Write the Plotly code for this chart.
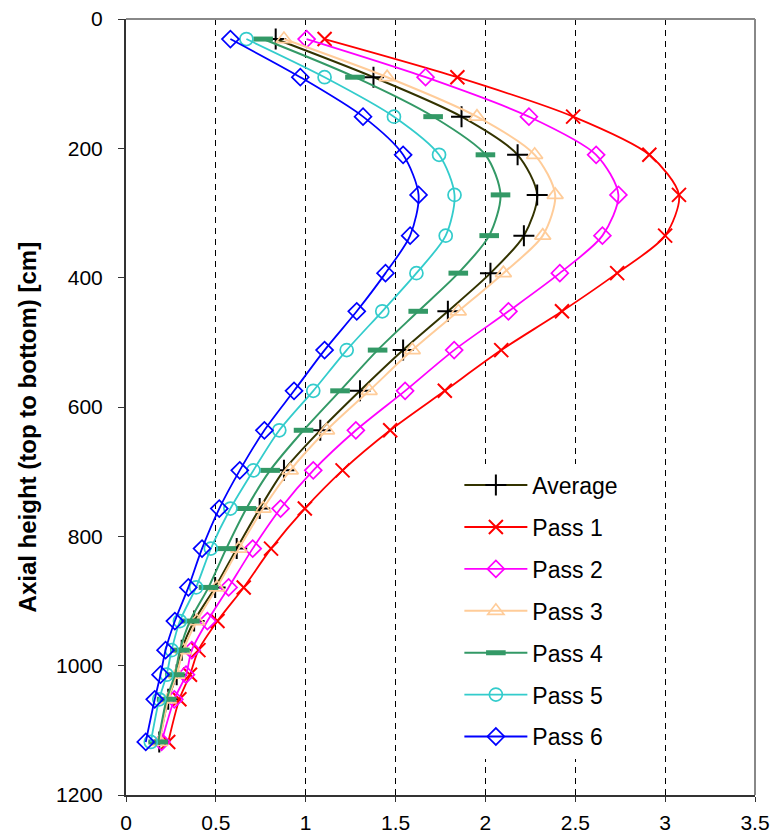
import plotly.graph_objects as go

# Axial positions (cm, measured from the top)
height_cm = [31, 90, 151, 210, 272, 335, 393, 452, 512, 575,
             636, 698, 757, 819, 879, 931, 976, 1014, 1052, 1118]

average = [0.833, 1.377, 1.867, 2.179, 2.288, 2.214, 2.028, 1.791, 1.542, 1.302,
           1.081, 0.879, 0.744, 0.616, 0.496, 0.379, 0.310, 0.282, 0.235, 0.185]
pass_1 = [1.105, 1.844, 2.488, 2.912, 3.077, 3.000, 2.733, 2.426, 2.088, 1.774,
          1.470, 1.205, 0.995, 0.807, 0.655, 0.509, 0.403, 0.356, 0.297, 0.235]
pass_2 = [1.005, 1.667, 2.242, 2.616, 2.740, 2.651, 2.414, 2.128, 1.826, 1.553,
          1.279, 1.042, 0.860, 0.705, 0.571, 0.453, 0.366, 0.334, 0.269, 0.198]
pass_3 = [0.879, 1.453, 1.953, 2.274, 2.388, 2.319, 2.100, 1.849, 1.593, 1.353,
          1.116, 0.914, 0.763, 0.628, 0.506, 0.394, 0.319, 0.282, 0.235, 0.188]
pass_4 = [0.763, 1.274, 1.709, 2.000, 2.084, 2.021, 1.849, 1.626, 1.400, 1.191,
          0.988, 0.802, 0.670, 0.558, 0.459, 0.356, 0.300, 0.272, 0.226, 0.179]
pass_5 = [0.670, 1.105, 1.491, 1.742, 1.828, 1.779, 1.616, 1.426, 1.228, 1.042,
          0.853, 0.709, 0.581, 0.472, 0.390, 0.300, 0.254, 0.226, 0.185, 0.138]
pass_6 = [0.581, 0.970, 1.319, 1.542, 1.628, 1.581, 1.444, 1.284, 1.105, 0.935,
          0.770, 0.633, 0.519, 0.423, 0.347, 0.272, 0.220, 0.192, 0.160, 0.110]

x_ticks = [0, 0.5, 1, 1.5, 2, 2.5, 3, 3.5]
y_ticks = [0, 200, 400, 600, 800, 1000, 1200]

y_title = "Axial height (top to bottom) [cm]"

series = [
    # name, values, line colour, marker symbol, marker size, marker stroke, line width, marker colour
    ("Average", average, "#333300", "cross-thin", 15, 2, 2, "#000000"),
    ("Pass 1", pass_1, "#FF0000", "x-thin", 14, 2, 1.8, "#FF0000"),
    ("Pass 2", pass_2, "#FF00FF", "diamond-open", 13, 1.7, 1.8, "#FF00FF"),
    ("Pass 3", pass_3, "#FFCC99", "triangle-up-open", 14, 1.7, 2, "#FFCC99"),
    ("Pass 4", pass_4, "#339966", "line-ew", 14, 5, 2, "#339966"),
    ("Pass 5", pass_5, "#33CCCC", "circle-open", 13, 1.7, 1.8, "#33CCCC"),
    ("Pass 6", pass_6, "#0000FF", "diamond-open", 13, 1.7, 1.8, "#0000FF"),
]

fig = go.Figure()
for name, vals, lcol, sym, msize, mlw, lw, mcol in series:
    fig.add_trace(go.Scatter(
        x=vals, y=height_cm, name=name, legendgroup=name,
        mode="lines+markers",
        line=dict(color=lcol, width=lw, shape="spline", smoothing=0.8),
        marker=dict(symbol=sym, size=msize, color=mcol,
                    line=dict(color=mcol, width=mlw)),
    ))

font_main = "Liberation Sans, Arial, sans-serif"

fig.update_layout(
    width=774, height=838,
    margin=dict(l=126, r=19, t=19, b=43),
    paper_bgcolor="white", plot_bgcolor="white",
    font=dict(family=font_main, color="#000000"),
    showlegend=True,
    legend=dict(
        x=0.530, y=0.427, xanchor="left", yanchor="top",
        bgcolor="white", borderwidth=0,
        font=dict(family=font_main, size=23, color="#000000"),
        tracegroupgap=9, itemwidth=63,
    ),
    xaxis=dict(
        range=[0, 3.5], tickvals=x_ticks,
        ticktext=[f"{v:g}" for v in x_ticks],
        showgrid=True, gridcolor="#000000", gridwidth=1, griddash="6px,5px",
        zeroline=False, showline=True, linecolor="#333333", linewidth=2,
        ticks="outside", ticklen=5, tickcolor="#333333",
        ticklabelstandoff=3, automargin=False,
        tickfont=dict(size=21, family=font_main),
    ),
    yaxis=dict(
        range=[1200, 0], tickvals=y_ticks,
        showgrid=False, zeroline=False,
        showline=True, linecolor="#333333", linewidth=2,
        ticks="outside", ticklen=6, tickcolor="#333333",
        ticklabelstandoff=11, automargin=False,
        tickfont=dict(size=21, family=font_main),
    ),
)

# rotated axis title, set slightly below the axis middle
fig.add_annotation(
    text=y_title, textangle=-90, showarrow=False,
    xref="paper", yref="paper", x=-0.157, y=0.474,
    xanchor="center", yanchor="middle",
    font=dict(size=24, family=font_main, weight="bold", color="#000000"),
)

# grey frame on the top and right of the plotting area
fig.add_shape(type="line", xref="paper", yref="paper", x0=0, x1=1, y0=1, y1=1,
              line=dict(color="#888888", width=2))
fig.add_shape(type="line", xref="paper", yref="paper", x0=1, x1=1, y0=0, y1=1,
              line=dict(color="#888888", width=2))

fig.write_html("out.html")
